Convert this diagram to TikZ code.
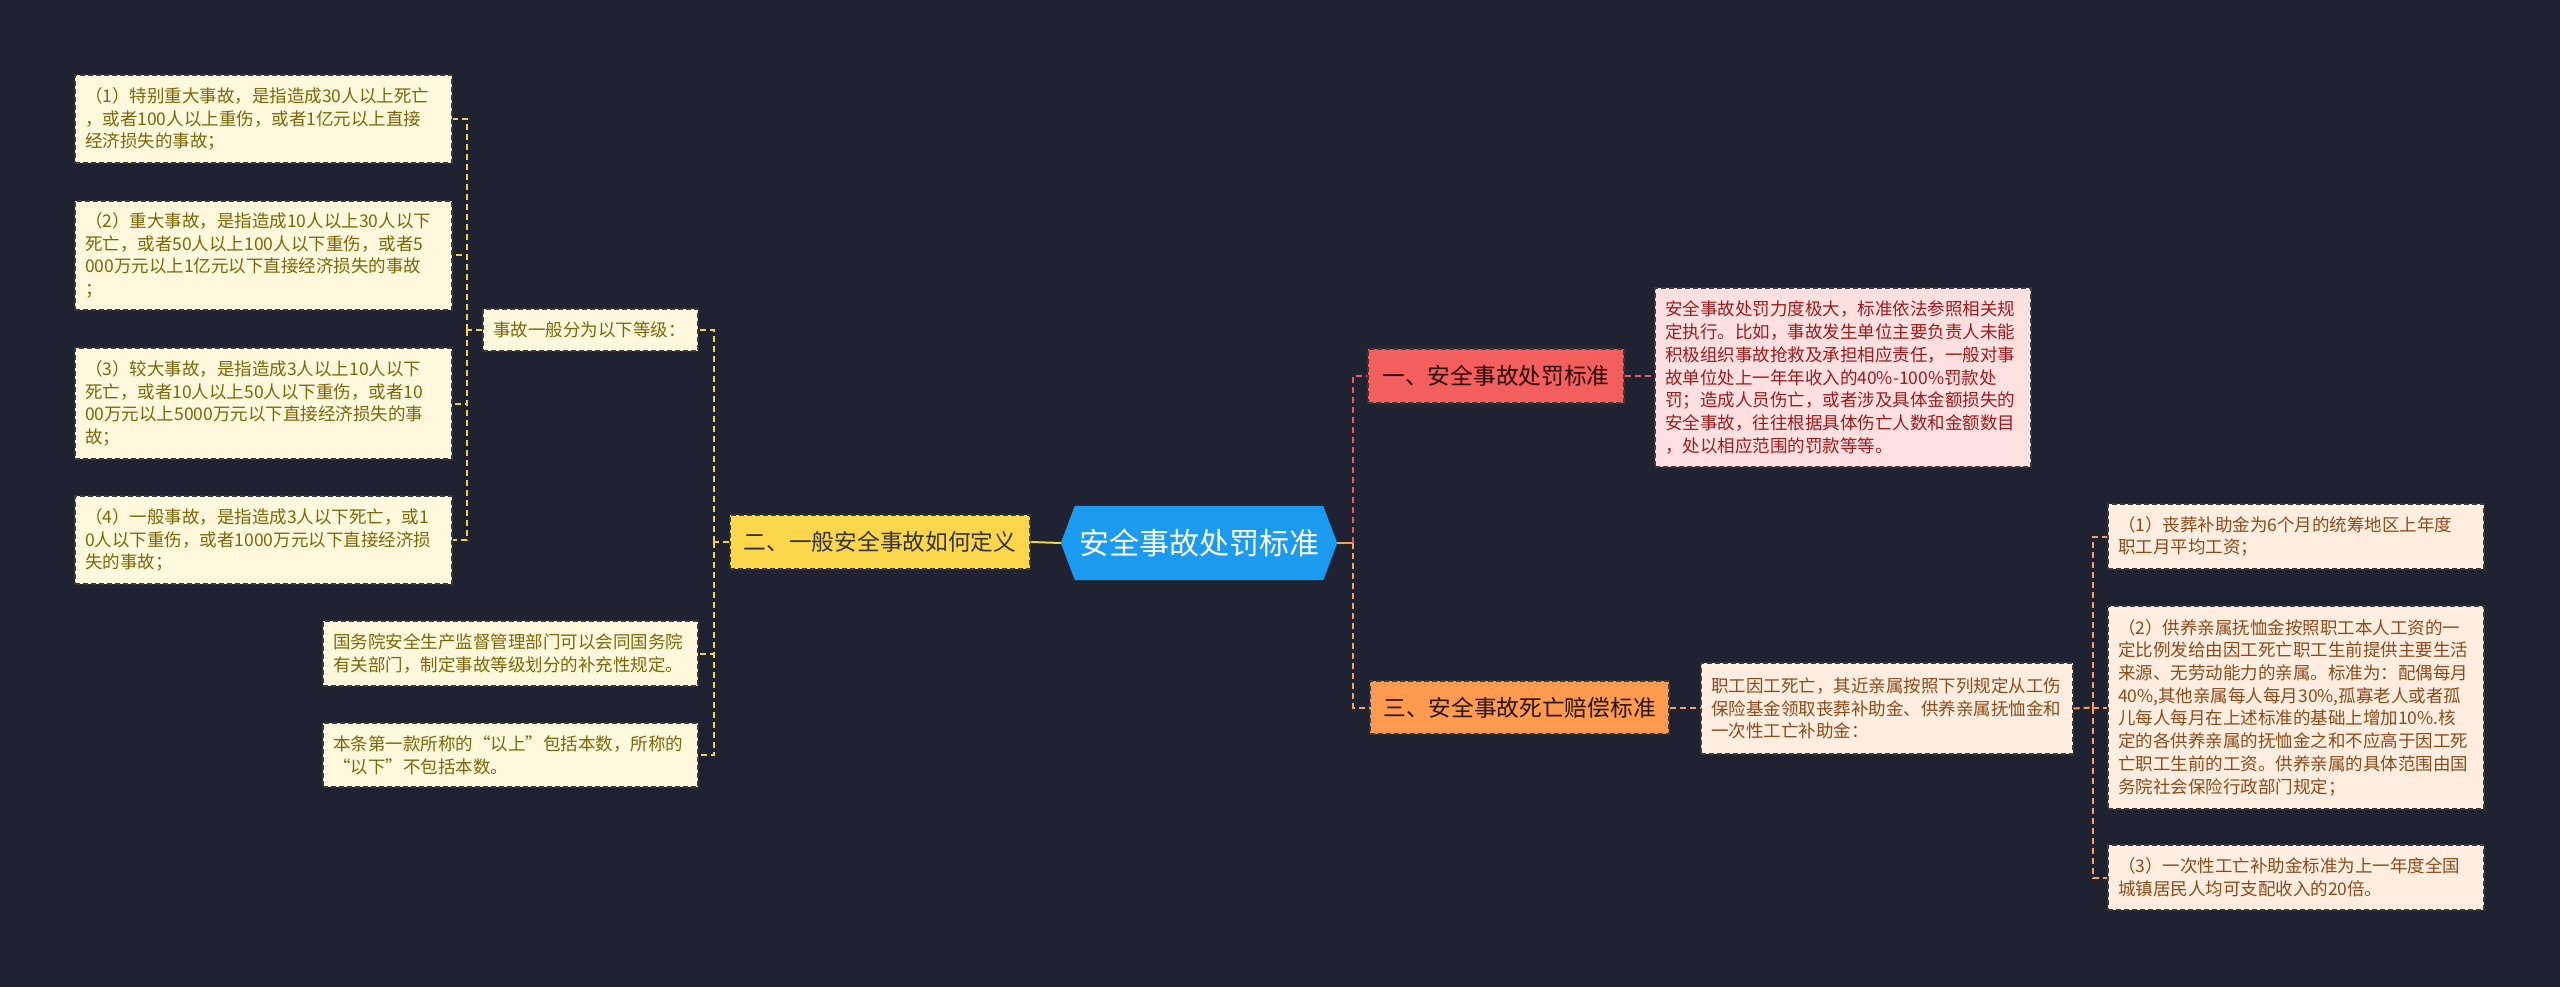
\documentclass[tikz,border=0pt]{standalone}
\usepackage{fontspec}
\newfontfamily\cjk{Noto Sans CJK SC}
\usetikzlibrary{backgrounds}
\definecolor{bgcol}{HTML}{1F2331}
\definecolor{creamfill}{HTML}{FFF8DC}
\definecolor{creamtext}{HTML}{7D6608}
\definecolor{yellowline}{HTML}{F2D14B}
\definecolor{yellownode}{HTML}{FDD74B}
\definecolor{rootblue}{HTML}{1B9BEF}
\definecolor{rednode}{HTML}{F25F5C}
\definecolor{redline}{HTML}{E8585C}
\definecolor{pinkfill}{HTML}{FFE0E0}
\definecolor{pinktext}{HTML}{9B1C1C}
\definecolor{orangenode}{HTML}{FF9B50}
\definecolor{orangeline}{HTML}{F5A05A}
\definecolor{peachfill}{HTML}{FFEEDF}
\definecolor{peachtext}{HTML}{8B4A1A}
\definecolor{boxborder}{HTML}{3A3A3A}
\tikzset{
  leafbox/.style={draw=boxborder, line width=1.2pt, dash pattern=on 5pt off 3pt,
    align=left, inner xsep=10pt, inner ysep=0pt,
    font=\cjk\fontsize{17.5}{22.7}\selectfont},
  creambox/.style={leafbox, fill=creamfill, text=creamtext},
  pinkbox/.style={leafbox, fill=pinkfill, text=pinktext},
  peachbox/.style={leafbox, fill=peachfill, text=peachtext},
  midnode/.style={draw=boxborder, line width=1.2pt, dash pattern=on 5pt off 3pt,
    inner sep=0pt, font=\cjk\fontsize{22.7}{26}\selectfont},
  conn/.style={line width=2pt, dash pattern=on 6pt off 4pt},
  yconn/.style={conn, draw=yellowline},
  rconn/.style={conn, draw=redline},
  oconn/.style={conn, draw=orangeline},
}
\begin{document}
\begin{tikzpicture}[x=1pt,y=-1pt]
\begin{scope}[on background layer]
\fill[bgcol] (0,0) rectangle (2560,987);
\end{scope}
\useasboundingbox (0,0) rectangle (2560,987);

% left leaves
\node[creambox, text width=357pt, minimum height=88pt] (b1) at (263.5,119) {（1）特别重大事故，是指造成30人以上死亡\\，或者100人以上重伤，或者1亿元以上直接\\经济损失的事故；};
\node[creambox, text width=357pt, minimum height=109pt] (b2) at (263.5,255.5) {（2）重大事故，是指造成10人以上30人以下\\死亡，或者50人以上100人以下重伤，或者5\\000万元以上1亿元以下直接经济损失的事故\\；};
\node[creambox, text width=357pt, minimum height=111pt] (b3) at (263.5,403.5) {（3）较大事故，是指造成3人以上10人以下\\死亡，或者10人以上50人以下重伤，或者10\\00万元以上5000万元以下直接经济损失的事\\故；};
\node[creambox, text width=357pt, minimum height=88pt] (b4) at (263.5,540) {（4）一般事故，是指造成3人以下死亡，或1\\0人以下重伤，或者1000万元以下直接经济损\\失的事故；};
\node[creambox, text width=195pt, minimum height=42pt] (shigu) at (590.5,330) {事故一般分为以下等级：};
\node[creambox, text width=355pt, minimum height=65pt] (guowu) at (510.5,653.5) {国务院安全生产监督管理部门可以会同国务院\\有关部门，制定事故等级划分的补充性规定。};
\node[creambox, text width=355pt, minimum height=64pt] (bentiao) at (510.5,755) {本条第一款所称的“以上”包括本数，所称的\\“以下”不包括本数。};

% level 2 left
\node[midnode, fill=yellownode, text=black!80, minimum width=300pt, minimum height=54pt] (er) at (880,542) {二、一般安全事故如何定义};

% root
\node[inner sep=0pt, minimum width=276pt, minimum height=74pt, text=white, font=\cjk\fontsize{30}{34}\selectfont] (root) at (1199,543) {安全事故处罚标准};
\begin{scope}[on background layer]
\fill[rootblue] (root.west) -- ([xshift=14pt]root.north west) -- ([xshift=-14pt]root.north east) -- (root.east) -- ([xshift=-14pt]root.south east) -- ([xshift=14pt]root.south west) -- cycle;
\end{scope}

% right side
\node[midnode, fill=rednode, text=black!85!red, minimum width=256pt, minimum height=54pt] (yi) at (1496,376) {一、安全事故处罚标准};
\node[pinkbox, text width=356pt, minimum height=179pt] (pink) at (1843,377.5) {安全事故处罚力度极大，标准依法参照相关规\\定执行。比如，事故发生单位主要负责人未能\\积极组织事故抢救及承担相应责任，一般对事\\故单位处上一年年收入的40\%-100\%罚款处\\罚；造成人员伤亡，或者涉及具体金额损失的\\安全事故，往往根据具体伤亡人数和金额数目\\，处以相应范围的罚款等等。};
\node[midnode, fill=orangenode, text=black!85!orange, minimum width=299pt, minimum height=53pt] (san) at (1519.5,707.5) {三、安全事故死亡赔偿标准};
\node[peachbox, text width=352pt, minimum height=91pt] (zhigong) at (1887,708.5) {职工因工死亡，其近亲属按照下列规定从工伤\\保险基金领取丧葬补助金、供养亲属抚恤金和\\一次性工亡补助金：};
\node[peachbox, text width=356pt, minimum height=65pt] (c1) at (2296,536.5) {（1）丧葬补助金为6个月的统筹地区上年度\\职工月平均工资；};
\node[peachbox, text width=356pt, minimum height=203pt] (c2) at (2296,707.5) {（2）供养亲属抚恤金按照职工本人工资的一\\定比例发给由因工死亡职工生前提供主要生活\\来源、无劳动能力的亲属。标准为：配偶每月\\40\%,其他亲属每人每月30\%,孤寡老人或者孤\\儿每人每月在上述标准的基础上增加10\%.核\\定的各供养亲属的抚恤金之和不应高于因工死\\亡职工生前的工资。供养亲属的具体范围由国\\务院社会保险行政部门规定；};
\node[peachbox, text width=356pt, minimum height=65pt] (c3) at (2296,877.5) {（3）一次性工亡补助金标准为上一年度全国\\城镇居民人均可支配收入的20倍。};

% junctions
\coordinate (j1) at (467,330);
\coordinate (j2) at (714,542);
\coordinate (j3) at (1353,543);
\coordinate (j4) at (2093,707.5);

% connectors
\draw[yconn] (shigu.west) -- (j1);
\draw[yconn] (j1) |- (b1.east);
\draw[yconn] (j1) |- (b2.east);
\draw[yconn] (j1) |- (b3.east);
\draw[yconn] (j1) |- (b4.east);
\draw[yconn] (er.west) -- (j2);
\draw[yconn] (j2) |- (shigu.east);
\draw[yconn] (j2) |- (guowu.east);
\draw[yconn] (j2) |- (bentiao.east);
\draw[line width=2pt, draw=yellowline] (root.west) -- (er.east);
\draw[line width=2pt, draw=orangeline] (root.east) -- (j3);
\draw[rconn] (j3) |- (yi.west);
\draw[oconn] (j3) |- (san.west);
\draw[rconn] (yi.east) -- (yi.east -| pink.west);
\draw[oconn] (san.east) -- (san.east -| zhigong.west);
\draw[oconn] (zhigong.east) -- (j4);
\draw[oconn] (j4) |- (c1.west);
\draw[oconn] (j4) |- (c2.west);
\draw[oconn] (j4) |- (c3.west);
\end{tikzpicture}
\end{document}
